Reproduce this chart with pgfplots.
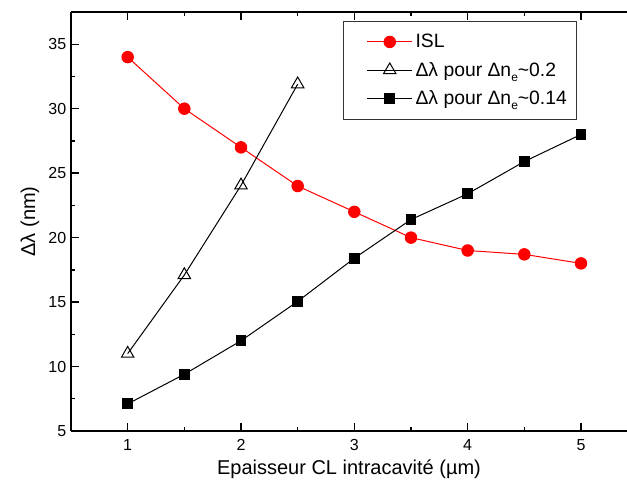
\documentclass[border=0pt]{standalone}
\usepackage{fontspec}
\setmainfont{Liberation Sans}
\usepackage{pgfplots}
\pgfplotsset{compat=1.18}
\newcommand{\sube}{\raisebox{-4pt}{\fontsize{9}{9}\selectfont e}}
\begin{document}
\begin{tikzpicture}
\begin{axis}[
 scale only axis, width=417pt, height=314.25pt,
 xmin=0.5, xmax=5.406, ymin=5, ymax=37.5,
 axis x line*=box, axis y line*=left,
 xtick={1,2,3,4,5}, ytick={5,10,...,35},
 minor x tick num=1, minor y tick num=1,
 tick align=inside, major tick length=6.25pt, minor tick length=3.2pt,
 axis line style={line width=1.1pt},
 every tick/.style={line width=1pt, black},
 ticklabel style={font=\fontsize{12}{14}\selectfont},
 /pgf/number format/assume math mode=true,
 xticklabel style={yshift=-3pt},
 xlabel={Epaisseur CL intracavité (µm)},
 ylabel={Δλ (nm)},
 label style={font=\fontsize{15}{18}\selectfont},
 legend style={at={(rel axis cs:0.4887,0.9785)}, anchor=north west,
   font=\fontsize{14.5}{17}\selectfont, draw=black!80, line width=0.8pt,
   inner xsep=5.5pt, inner ysep=7.5pt, row sep=5.3pt},
 legend cell align=left,
 legend image code/.code={\path (-12pt,0pt); \draw[mark repeat=2,mark phase=2] plot coordinates {(0pt,0pt) (17pt,0pt) (34pt,0pt)};},
]
\addplot[red, line width=0.75pt, mark=*, mark size=4.3pt, mark options={fill=red}]
 coordinates {(1,34) (1.5,30) (2,27) (2.5,24) (3,22) (3.5,20) (4,19) (4.5,18.7) (5,18)};
\addlegendentry{ISL}
\addplot[black, line width=0.75pt, mark=triangle, mark size=5.4pt, mark options={fill=white, line width=0.75pt}]
 coordinates {(1,11) (1.5,17.1) (2,24.05) (2.5,31.9)};
\addlegendentry{Δλ pour Δn\sube\textasciitilde0.2}
\addplot[black, line width=0.75pt, mark=square*, mark size=3.7pt, mark options={fill=black}]
 coordinates {(1,7.1) (1.5,9.4) (2,12) (2.5,15.05) (3,18.4) (3.5,21.4) (4,23.4) (4.5,25.9) (5,28)};
\addlegendentry{Δλ pour Δn\sube\textasciitilde0.14}
\end{axis}
\pgfresetboundingbox
\path ([shift={(-53.25pt,-45pt)}]current axis.south west) rectangle ([shift={(0pt,9pt)}]current axis.north east);
\end{tikzpicture}
\end{document}
